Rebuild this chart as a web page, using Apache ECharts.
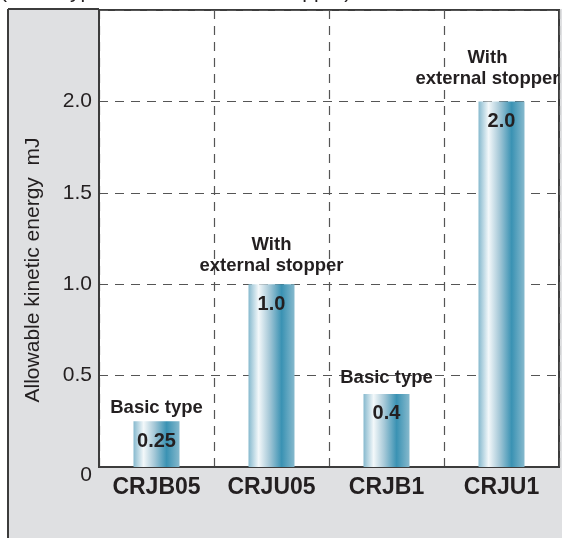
<!DOCTYPE html>
<html>
<head>
<meta charset="utf-8">
<script src="https://cdn.jsdelivr.net/npm/echarts@6/dist/echarts.min.js"></script>
<style>html,body{margin:0;padding:0;background:#fff;}#c{width:562px;height:538px;}</style>
</head>
<body>
<div id="c"></div>
<script>
var categories = ['CRJB05', 'CRJU05', 'CRJB1', 'CRJU1'];
var energyValues = [0.25, 1.0, 0.4, 2.0];
var valueLabels = ['0.25', '1.0', '0.4', '2.0'];
var typeLabels = ['Basic type', 'With\nexternal stopper', 'Basic type', 'With\nexternal stopper'];
var yTicks = [0, 0.5, 1.0, 1.5, 2.0];
var yAxisTitle = 'Allowable kinetic energy  mJ';
var topNote = '(Basic type and with external stopper)';

var FONT = '"Liberation Sans", Arial, Helvetica, sans-serif';
var TXT = '#231f20';
var annoDist = [3, 8, 5, 12];
var annoOffset = [[0,0],[0,0],[0,0],[-14,0]];

var chart = echarts.init(document.getElementById('c'), null, {renderer: 'canvas'});

var barGrad = new echarts.graphic.LinearGradient(0, 0, 1, 0, [
  {offset: 0, color: '#86b9ce'},
  {offset: 0.22, color: '#f3f8fa'},
  {offset: 0.45, color: '#a7c9d8'},
  {offset: 0.72, color: '#3a92b3'},
  {offset: 1, color: '#86b9cd'}
]);

var option = {
  animation: false,
  backgroundColor: '#ffffff',
  textStyle: {fontFamily: FONT},
  graphic: [
    {type: 'rect', z: -10, shape: {x: 8, y: 9, width: 554, height: 529}, style: {fill: '#dfe0e2'}},
    {type: 'line', z: -9, shape: {x1: 8, y1: 9, x2: 8, y2: 538}, style: {stroke: '#3c3c3c', lineWidth: 2}},
    {type: 'line', z: -9, shape: {x1: 8, y1: 9, x2: 99, y2: 9}, style: {stroke: '#3c3c3c', lineWidth: 2}},
    {type: 'text', x: 33, y: 270, rotation: Math.PI / 2,
      style: {text: yAxisTitle, fontFamily: FONT, fontSize: 21, fill: TXT, align: 'center', verticalAlign: 'middle'}},
    {type: 'text', x: 0, y: 2.5,
      style: {text: topNote, fontFamily: FONT, fontSize: 21, fill: TXT, align: 'left', verticalAlign: 'bottom'}}
  ],
  grid: {
    left: 99, top: 10, width: 460, height: 457,
    show: true, backgroundColor: '#ffffff', borderColor: '#3c3c3c', borderWidth: 2
  },
  xAxis: {
    type: 'category',
    data: categories,
    axisLine: {show: true, lineStyle: {color: '#3c3c3c', width: 2}},
    axisTick: {show: false},
    axisLabel: {margin: 9, fontFamily: FONT, fontSize: 23, fontWeight: 'bold', color: TXT},
    splitLine: {show: true, lineStyle: {color: '#555555', width: 1.2, type: [9, 7]}}
  },
  yAxis: {
    type: 'value',
    min: 0, max: 2.5, interval: 0.5,
    axisLine: {show: true, lineStyle: {color: '#3c3c3c', width: 2}},
    axisTick: {show: false},
    axisLabel: {
      margin: 7, fontFamily: FONT, fontSize: 21, color: TXT,
      showMaxLabel: false,
      formatter: function (v) {
        if (yTicks.indexOf(v) < 0) return '';
        if (v === 0) return '{z|0}';
        return v.toFixed(1);
      },
      rich: {z: {fontFamily: FONT, fontSize: 21, color: TXT, padding: [17, 0, 0, 0]}}
    },
    splitLine: {show: true, lineStyle: {color: '#555555', width: 1.2, type: [9, 7]}}
  },
  series: [
    {
      type: 'bar',
      barWidth: 46,
      data: energyValues.map(function (v, i) { return {value: v}; }),
      itemStyle: {color: barGrad},
      label: {
        show: true, position: 'insideTop', distance: 10,
        fontFamily: FONT, fontSize: 20, fontWeight: 'bold', color: TXT,
        formatter: function (p) { return valueLabels[p.dataIndex]; }
      },
      z: 3
    },
    {
      type: 'scatter',
      symbolSize: 0,
      silent: true,
      itemStyle: {opacity: 1, color: TXT},
      data: energyValues.map(function (v, i) {
        return {value: v, label: {distance: annoDist[i], offset: annoOffset[i]}};
      }),
      label: {
        show: true, position: 'top',
        fontFamily: FONT, fontSize: 18.5, fontWeight: 'bold', color: TXT, lineHeight: 21,
        align: 'center', opacity: 1,
        formatter: function (p) { return typeLabels[p.dataIndex]; }
      },
      z: 4
    }
  ]
};
chart.setOption(option);
</script>
</body>
</html>
